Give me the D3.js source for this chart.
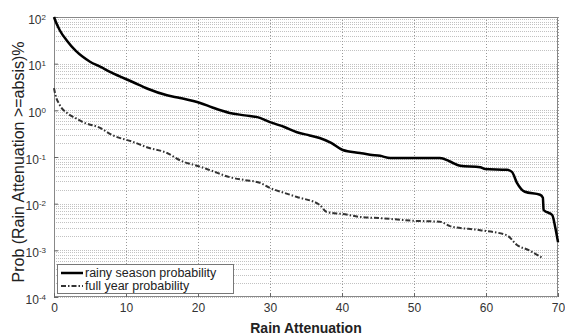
<!DOCTYPE html>
<html>
<head>
<meta charset="utf-8">
<script src="https://cdn.jsdelivr.net/npm/d3@7"></script>
<style>
  body { margin: 0; background: #fff; }
  svg { font-family: Arial, "Liberation Sans", sans-serif; }
</style>
</head>
<body>
<div id="chart"></div>
<script>
// Data (x = rain attenuation, y = probability %)
const rainyX = [0, 0.15, 0.8, 1.8, 3, 4, 5, 6.4, 8, 11, 13, 15.7, 17.5, 20.3, 22, 24.4, 26.5, 28.6, 30, 32, 33.75, 35.5, 36.9, 38.5, 40.1, 42.5, 43.9, 45.3, 46.7, 53.6, 55, 56.4, 59.2, 59.9, 62.9, 63.6, 64.3, 65.4, 67.5, 67.9, 68.0, 69.2, 69.6, 70];
const rainyY = [100, 86, 52, 31, 19, 14, 11, 8.6, 6.4, 4.0, 2.9, 2.1, 1.84, 1.44, 1.15, 0.88, 0.78, 0.69, 0.56, 0.44, 0.34, 0.29, 0.255, 0.2, 0.141, 0.122, 0.112, 0.106, 0.095, 0.095, 0.08, 0.065, 0.06, 0.055, 0.053, 0.048, 0.028, 0.018, 0.0155, 0.0134, 0.0073, 0.0057, 0.0032, 0.0015];
const fullX = [0, 0.15, 0.8, 1.8, 3, 4, 6.4, 8, 11, 13, 15.7, 17.5, 20.3, 22, 24.4, 26.5, 28.6, 30, 32, 33.75, 36.9, 37.9, 40.1, 42.5, 45.3, 49.9, 53.6, 55, 59.2, 62.9, 64.3, 66, 67.8];
const fullY = [3.0, 2.3, 1.3, 0.88, 0.68, 0.56, 0.42, 0.3, 0.21, 0.16, 0.122, 0.085, 0.062, 0.05, 0.037, 0.032, 0.028, 0.0217, 0.017, 0.0139, 0.0094, 0.0066, 0.006, 0.0052, 0.0049, 0.0043, 0.0041, 0.0033, 0.0027, 0.0021, 0.0013, 0.001, 0.00069];
const xTicks = [0, 10, 20, 30, 40, 50, 60, 70];
const yExps = [-4, -3, -2, -1, 0, 1, 2];
const legendLabels = ["rainy season probability", "full year probability"];

const width = 565;
const height = 336;
const marginTop = 17;
const marginRight = 7;
const marginBottom = 39;
const marginLeft = 54;

const x = d3.scaleLinear().domain([0, 70]).range([marginLeft, width - marginRight]);
const y = d3.scaleLog().domain([1e-4, 1e2]).range([height - marginBottom, marginTop]);

const svg = d3.select("#chart").append("svg")
  .attr("width", width)
  .attr("height", height)
  .attr("viewBox", [0, 0, width, height]);

// Horizontal grid: decades and minor lines 2..9
const minor = [];
for (let e = -4; e < 2; e++) for (let m = 1; m <= 9; m++) minor.push(m * Math.pow(10, e));

const grid = svg.append("g").attr("stroke", "#999").attr("stroke-width", 1);
grid.selectAll("line.h")
  .data(minor)
  .join("line")
  .attr("x1", marginLeft).attr("x2", width - marginRight)
  .attr("y1", d => Math.round(y(d)) + 0.5).attr("y2", d => Math.round(y(d)) + 0.5)
  .attr("stroke-dasharray", "1,1")
  .attr("stroke-opacity", 0.6);
grid.selectAll("line.vx")
  .data(xTicks)
  .join("line")
  .attr("x1", d => Math.round(x(d)) + 0.5).attr("x2", d => Math.round(x(d)) + 0.5)
  .attr("y1", marginTop).attr("y2", height - marginBottom)
  .attr("stroke-dasharray", "1,2");

// Frame
svg.append("rect")
  .attr("x", marginLeft + 0.5).attr("y", marginTop + 0.5)
  .attr("width", width - marginLeft - marginRight - 1)
  .attr("height", height - marginTop - marginBottom - 1)
  .attr("fill", "none")
  .attr("stroke", "#888");

// Axes
svg.append("g")
  .attr("transform", `translate(0,${height - marginBottom})`)
  .call(d3.axisBottom(x).tickValues(xTicks).tickSize(-4).tickPadding(6).tickSizeOuter(0))
  .call(g => g.select(".domain").remove())
  .call(g => g.selectAll(".tick line").attr("stroke", "#666"))
  .call(g => g.selectAll(".tick text").attr("font-size", 12).attr("fill", "#333"));

const yAxis = svg.append("g")
  .attr("transform", `translate(${marginLeft},0)`)
  .call(d3.axisLeft(y).tickValues(yExps.map(e => Math.pow(10, e))).tickSize(-4).tickPadding(8).tickFormat(""))
  .call(g => g.select(".domain").remove())
  .call(g => g.selectAll(".tick line").attr("stroke", "#666"));

yAxis.selectAll(".tick text")
  .attr("font-size", 12).attr("fill", "#333")
  .attr("dy", "0.5em")
  .each(function(d) {
    const t = d3.select(this);
    t.append("tspan").text("10");
    t.append("tspan").attr("dy", "-0.5em").attr("font-size", 8).text(Math.round(Math.log10(d)));
  });

// Lines
const line = d3.line().x(d => x(d[0])).y(d => y(d[1])).curve(d3.curveMonotoneX);

svg.append("path")
  .datum(fullX.map((v, i) => [v, fullY[i]]))
  .attr("fill", "none")
  .attr("stroke", "#333")
  .attr("stroke-width", 2)
  .attr("stroke-dasharray", "5,2,1.5,2")
  .attr("d", line);

svg.append("path")
  .datum(rainyX.map((v, i) => [v, rainyY[i]]))
  .attr("fill", "none")
  .attr("stroke", "#000")
  .attr("stroke-width", 2.5)
  .attr("stroke-linejoin", "round")
  .attr("d", line);

// Legend
const lg = svg.append("g").attr("transform", `translate(${marginLeft + 3},264)`);
lg.append("rect")
  .attr("x", 0.5).attr("y", 0.5).attr("width", 176).attr("height", 29)
  .attr("fill", "#fff").attr("stroke", "#777");
lg.append("line").attr("x1", 4).attr("x2", 26).attr("y1", 9).attr("y2", 9)
  .attr("stroke", "#000").attr("stroke-width", 2.5);
lg.append("line").attr("x1", 4).attr("x2", 26).attr("y1", 22).attr("y2", 22)
  .attr("stroke", "#333").attr("stroke-width", 2).attr("stroke-dasharray", "5,2,1.5,2");
lg.selectAll("text")
  .data(legendLabels)
  .join("text")
  .attr("x", 28).attr("y", (d, i) => 9 + i * 13)
  .attr("dy", "0.35em")
  .attr("font-size", 12.5).attr("fill", "#222")
  .text(d => d);

// Axis titles
svg.append("text")
  .attr("x", x(35)).attr("y", height - 3)
  .attr("text-anchor", "middle")
  .attr("font-size", 14).attr("font-weight", "bold").attr("fill", "#222")
  .text("Rain Attenuation");

svg.append("text")
  .attr("transform", `translate(18,162) rotate(-90)`)
  .attr("text-anchor", "middle")
  .attr("dy", "0.35em")
  .attr("font-size", 16).attr("fill", "#222")
  .text("Prob (Rain Attenuation >=absis)%");
</script>
</body>
</html>
